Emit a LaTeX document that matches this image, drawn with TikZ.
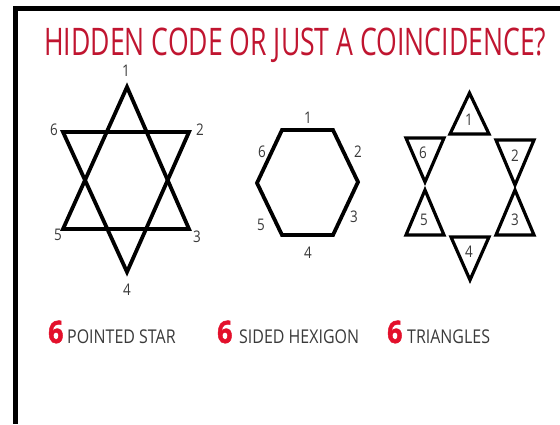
\documentclass[tikz,border=0pt]{standalone}
\usepackage{fontspec}
\setmainfont{Open Sans}
\newfontfamily\condfont[FakeStretch=0.70]{Open Sans}
\newfontfamily\labelfont[FakeStretch=0.84]{Open Sans}
\newfontfamily\bignumfont[FakeStretch=0.86,FakeBold=1.5]{Open Sans}
\definecolor{titlered}{HTML}{C01530}
\definecolor{numred}{HTML}{E3102B}
\definecolor{labelgray}{HTML}{3A3A3A}

\begin{document}
\begin{tikzpicture}[x=1pt,y=-1pt,
    shapeline/.style={line width=3.8pt, line join=miter},
    triline/.style={line width=3.2pt, line join=miter},
    num/.style={inner sep=0pt, text=labelgray, font=\labelfont\fontsize{16}{16}\selectfont},
    caption/.style={inner sep=0pt, anchor=base west, text=labelgray, font=\labelfont\fontsize{19}{19}\selectfont},
    bignum/.style={inner sep=0pt, anchor=base west, text=numred, font=\bignumfont\bfseries\fontsize{31}{31}\selectfont}]
  \useasboundingbox (0,0) rectangle (560,424);
  % Frame
  \fill[black] (13,6) rectangle (560,11);
  \fill[black] (13,6) rectangle (18,424);
  % Title
  \node[anchor=base west, inner sep=0pt, text=titlered,
        font=\condfont\fontsize{38}{38}\selectfont] (title) at (44,55)
        {HIDDEN CODE OR JUST A COINCIDENCE?};

  % Star
  \coordinate (s1) at (127,87);
  \coordinate (s2) at (189,132);
  \coordinate (s3) at (189,229);
  \coordinate (s4) at (127,272);
  \coordinate (s5) at (63,229);
  \coordinate (s6) at (63,132);
  \draw[shapeline] (s1) -- (s3) -- (s5) -- cycle;
  \draw[shapeline] (s6) -- (s2) -- (s4) -- cycle;
  \foreach \n/\x/\y in {1/126/71, 2/200/130, 3/197/237, 4/127/290, 5/58/235, 6/54/130}
    \node[num] (star\n) at (\x,\y) {\n};

  % Hexagon
  \coordinate (h1) at (282,130);
  \coordinate (h2) at (333,130);
  \coordinate (h3) at (358,182);
  \coordinate (h4) at (333,235);
  \coordinate (h5) at (282,235);
  \coordinate (h6) at (257,183);
  \draw[shapeline] (h1) -- (h2) -- (h3) -- (h4) -- (h5) -- (h6) -- cycle;
  \draw[line width=4.8pt] (h1) -- (h2);
  \foreach \n/\x/\y in {1/308/118, 2/358/152, 3/354/217, 4/308/253, 5/261/225, 6/262/152}
    \node[num] (hex\n) at (\x,\y) {\n};

  % Triangles
  \foreach \n/\ax/\ay/\bl/\br/\by/\lx/\ly in {
      1/469.5/93/450/489/134/469/120,
      2/515/185/496/534/140/515/156,
      3/515/190/496/534/235/515/220,
      4/470/280/451/489/237/469/252,
      5/425/190/406/444/235/424/220,
      6/425/182/406/444/138/423/153}
  {
    \draw[triline] (\ax,\ay) -- (\bl,\by) -- (\br,\by) -- cycle;
    \node[num] (tri\n) at (\lx,\ly) {\n};
  }

  % Captions
  \node[bignum] (six1) at (48,343) {6};
  \node[caption] (cap1) at (67,343) {POINTED STAR};
  \node[bignum] (six2) at (217,343) {6};
  \node[caption] (cap2) at (239,343) {SIDED HEXIGON};
  \node[bignum] (six3) at (387,343) {6};
  \node[caption] (cap3) at (407,343) {TRIANGLES};
\end{tikzpicture}
\end{document}
